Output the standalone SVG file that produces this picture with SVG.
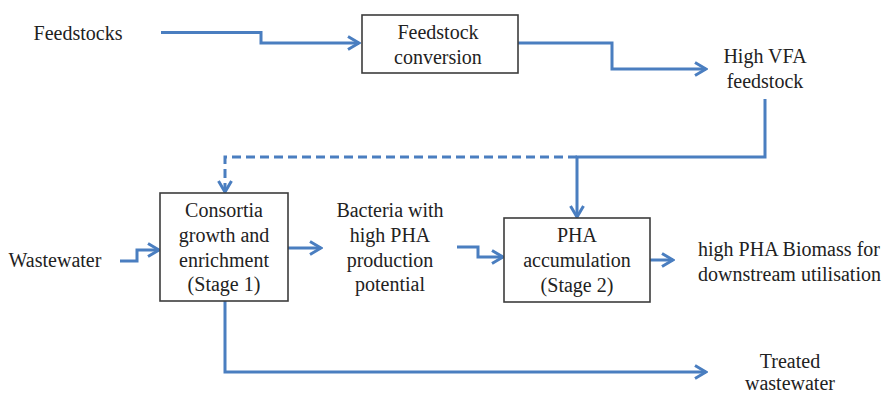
<svg xmlns="http://www.w3.org/2000/svg" width="886" height="394" viewBox="0 0 886 394">
<style>
text{font-family:"Liberation Serif","DejaVu Serif","Times New Roman",serif;font-size:20px;fill:#222;text-anchor:middle}
.box{fill:#fff;stroke:#3c3c3c;stroke-width:1.6}
.c{fill:none;stroke:#4a7ec0;stroke-width:3;stroke-linejoin:miter}
.d{stroke-dasharray:9 5}
</style>
<defs>
<marker id="ah" viewBox="0 0 14 16" refX="12.5" refY="8" markerWidth="14" markerHeight="16" markerUnits="userSpaceOnUse" orient="auto">
<path d="M1.5,1.5 L12.5,8 L1.5,14.5" fill="none" stroke="#4a7ec0" stroke-width="3"/>
</marker>
</defs>
<rect width="886" height="394" fill="#fff"/>
<g id="connectors">
<path class="c" d="M161,32.5 H261 V43 H359" marker-end="url(#ah)"/>
<path class="c" d="M518,43 H612 V69 H706" marker-end="url(#ah)"/>
<path class="c" d="M765,99 V157 H577 V217" marker-end="url(#ah)"/>
<path class="c d" d="M577,157 H225 V192" marker-end="url(#ah)"/>
<path class="c" d="M120,261 H137 V250 H159" marker-end="url(#ah)"/>
<path class="c" d="M288,248 H321" marker-end="url(#ah)"/>
<path class="c" d="M457,247 H478 V257 H503" marker-end="url(#ah)"/>
<path class="c" d="M650,260 H673" marker-end="url(#ah)"/>
<path class="c" d="M225,301 V372 H706" marker-end="url(#ah)"/>
</g>
<g id="feedstocks"><text x="78" y="40">Feedstocks</text></g>
<g id="feedstock-conversion">
<rect class="box" x="362" y="15" width="156" height="58"/>
<text x="438" y="39">Feedstock</text>
<text x="438" y="64">conversion</text>
</g>
<g id="high-vfa"><text x="765" y="63">High VFA</text><text x="765" y="88">feedstock</text></g>
<g id="wastewater"><text x="55" y="267">Wastewater</text></g>
<g id="stage1">
<rect class="box" x="160" y="193" width="128" height="108"/>
<text x="224" y="217">Consortia</text>
<text x="224" y="242">growth and</text>
<text x="224" y="267">enrichment</text>
<text x="224" y="291">(Stage 1)</text>
</g>
<g id="bacteria">
<text x="390" y="217">Bacteria with</text>
<text x="390" y="242">high PHA</text>
<text x="390" y="267">production</text>
<text x="390" y="291">potential</text>
</g>
<g id="stage2">
<rect class="box" x="504" y="218" width="146" height="84"/>
<text x="577" y="242">PHA</text>
<text x="577" y="267">accumulation</text>
<text x="577" y="292">(Stage 2)</text>
</g>
<g id="biomass">
<text x="698" y="256" style="text-anchor:start" textLength="182" lengthAdjust="spacing">high PHA Biomass for</text>
<text x="698" y="281" style="text-anchor:start" textLength="183" lengthAdjust="spacing">downstream utilisation</text>
</g>
<g id="treated"><text x="790" y="368">Treated</text><text x="790" y="390">wastewater</text></g>
</svg>
